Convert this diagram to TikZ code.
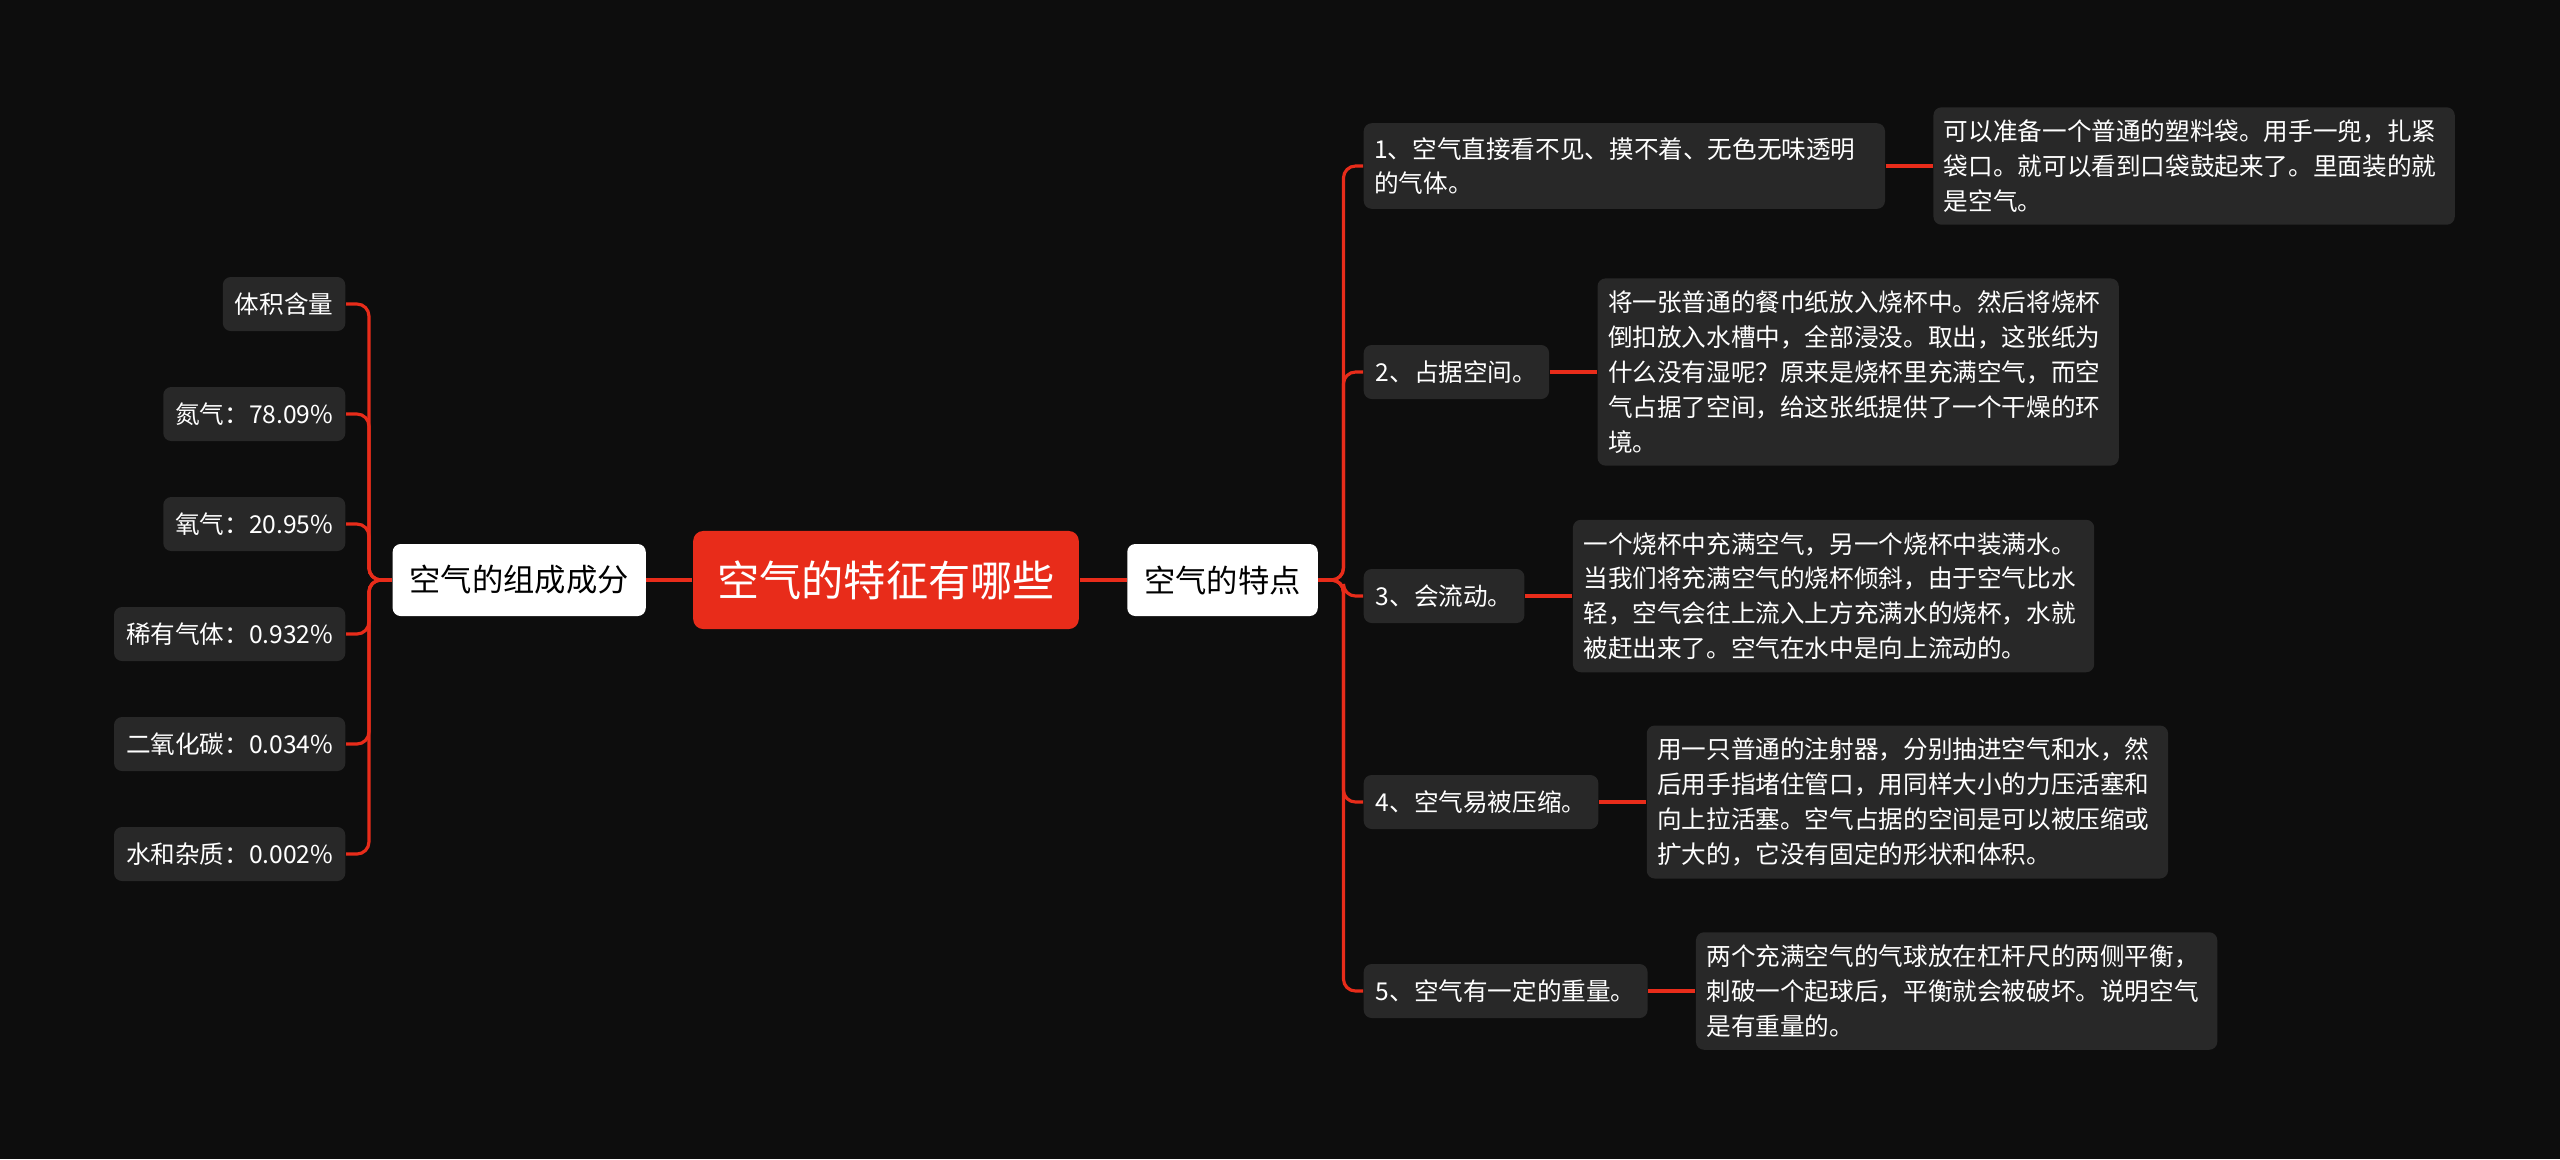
\documentclass[tikz,border=0pt]{standalone}
\usepackage{fontspec}
\setmainfont{Noto Sans CJK SC}
\usetikzlibrary{positioning}
\definecolor{bgdark}{RGB}{13,13,13}
\definecolor{boxgray}{RGB}{40,40,40}
\definecolor{mapred}{RGB}{232,44,26}

\begin{document}
\begin{tikzpicture}[x=0.01cm,y=-0.01cm,
    branch/.style={draw=mapred,line width=0.9pt,rounded corners=0.12cm},
    leafbox/.style={fill=boxgray,text=white,rounded corners=0.08cm,font=\fontsize{7}{9.9}\selectfont,inner xsep=0.12cm,inner ysep=0.1cm,minimum height=0.54cm},
    notebox/.style={leafbox,text width=5cm,align=left,inner xsep=0.105cm,inner ysep=0.125cm},
    topicbox/.style={fill=white,text=black,rounded corners=0.08cm,font=\fontsize{8.9}{11}\selectfont,inner xsep=0.17cm,minimum height=0.72cm},
    rootbox/.style={fill=mapred,text=white,rounded corners=0.1cm,font=\fontsize{12}{14}\selectfont,inner xsep=0.24cm,minimum height=0.98cm}]
    \fill[bgdark] (0,0) rectangle (2560,1159);
    % centre and the two topics
    \node[rootbox] (air) at (886,580) {空气的特征有哪些};
    \node[topicbox,left=0.46cm of air] (comp) {空气的组成成分};
    \node[topicbox,right=0.47cm of air] (feat) {空气的特点};
    \draw[branch] (air.west) -- (comp.east);
    \draw[branch] (air.east) -- (feat.west);
    % composition
    \node[leafbox,anchor=east] (vol) at (346,304) {体积含量};
    \node[leafbox,anchor=east] (nit) at (346,414) {氮气：78.09\%};
    \node[leafbox,anchor=east] (oxy) at (346,524) {氧气：20.95\%};
    \node[leafbox,anchor=east] (rare) at (346,634) {稀有气体：0.932\%};
    \node[leafbox,anchor=east] (cdo) at (346,744) {二氧化碳：0.034\%};
    \node[leafbox,anchor=east] (wat) at (346,854) {水和杂质：0.002\%};
    \draw[branch] (comp.west) -- ++(-23,0) |- (vol.east);
    \draw[branch] (comp.west) -- ++(-23,0) |- (nit.east);
    \draw[branch] (comp.west) -- ++(-23,0) |- (oxy.east);
    \draw[branch] (comp.west) -- ++(-23,0) |- (rare.east);
    \draw[branch] (comp.west) -- ++(-23,0) |- (cdo.east);
    \draw[branch] (comp.west) -- ++(-23,0) |- (wat.east);
    % features
    \node[notebox,anchor=west,inner ysep=0.14cm] (f1) at (1363,166) {1、空气直接看不见、摸不着、无色无味透明\\的气体。};
    \node[leafbox,anchor=west] (f2) at (1363,372) {2、占据空间。};
    \node[leafbox,anchor=west] (f3) at (1363,596) {3、会流动。};
    \node[leafbox,anchor=west] (f4) at (1363,802) {4、空气易被压缩。};
    \node[leafbox,anchor=west] (f5) at (1363,991) {5、空气有一定的重量。};
    \node[notebox,right=0.47cm of f1] (d1) {可以准备一个普通的塑料袋。用手一兜，扎紧\\袋口。就可以看到口袋鼓起来了。里面装的就\\是空气。};
    \node[notebox,right=0.47cm of f2] (d2) {将一张普通的餐巾纸放入烧杯中。然后将烧杯\\倒扣放入水槽中，全部浸没。取出，这张纸为\\什么没有湿呢？原来是烧杯里充满空气，而空\\气占据了空间，给这张纸提供了一个干燥的环\\境。};
    \node[notebox,right=0.47cm of f3] (d3) {一个烧杯中充满空气，另一个烧杯中装满水。\\当我们将充满空气的烧杯倾斜，由于空气比水\\轻，空气会往上流入上方充满水的烧杯，水就\\被赶出来了。空气在水中是向上流动的。};
    \node[notebox,right=0.47cm of f4] (d4) {用一只普通的注射器，分别抽进空气和水，然\\后用手指堵住管口，用同样大小的力压活塞和\\向上拉活塞。空气占据的空间是可以被压缩或\\扩大的，它没有固定的形状和体积。};
    \node[notebox,right=0.47cm of f5] (d5) {两个充满空气的气球放在杠杆尺的两侧平衡，\\刺破一个起球后，平衡就会被破坏。说明空气\\是有重量的。};
    \draw[branch] (feat.east) -- ++(25,0) |- (f1.west);
    \draw[branch] (feat.east) -- ++(25,0) |- (f2.west);
    \draw[branch] (feat.east) -- ++(25,0) |- (f3.west);
    \draw[branch] (feat.east) -- ++(25,0) |- (f4.west);
    \draw[branch] (feat.east) -- ++(25,0) |- (f5.west);
    \draw[branch] (f1.east) -- (d1.west);
    \draw[branch] (f2.east) -- (d2.west);
    \draw[branch] (f3.east) -- (d3.west);
    \draw[branch] (f4.east) -- (d4.west);
    \draw[branch] (f5.east) -- (d5.west);
  \end{tikzpicture}
\end{document}
